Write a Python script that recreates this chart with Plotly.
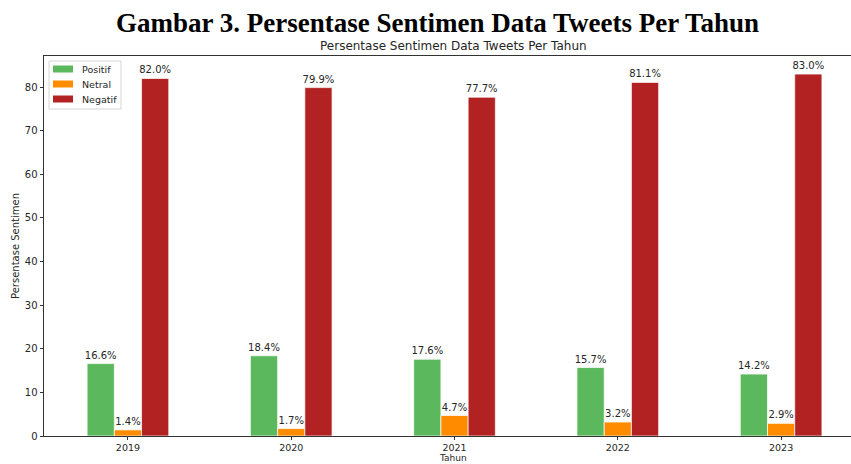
import plotly.graph_objects as go

years = ["2019", "2020", "2021", "2022", "2023"]
positif = [16.6, 18.4, 17.6, 15.7, 14.2]
netral = [1.4, 1.7, 4.7, 3.2, 2.9]
negatif = [82.0, 79.9, 77.7, 81.1, 83.0]
series_names = ["Positif", "Netral", "Negatif"]
series_colors = ["#5cb85c", "#ff8c00", "#b22222"]

FONT = "DejaVu Sans"
TXT = "#262626"

# plot area in pixels
L, R, T, B = 44, 851, 56, 436
PW, PH = R - L, B - T


def px(x):
    return (x - L) / PW


def py(y):
    return (B - y) / PH


fig = go.Figure()
for name, vals, col in zip(series_names, [positif, netral, negatif], series_colors):
    fig.add_trace(go.Bar(
        x=years, y=vals, name=name,
        marker=dict(color=col, line=dict(color="rgba(255,255,255,0.7)", width=1)),
        text=[f"{v:.1f}%" for v in vals],
        textposition="outside",
        textfont=dict(family=FONT, size=10, color=TXT),
        constraintext="none",
        cliponaxis=False,
        showlegend=False,
    ))

fig.update_layout(
    width=851, height=464,
    margin=dict(l=L, r=851 - R, t=T, b=464 - B, autoexpand=False),
    paper_bgcolor="white", plot_bgcolor="white",
    barmode="group", bargap=0.5, bargroupgap=0,
    font=dict(family=FONT, size=10, color=TXT),
    showlegend=False,
    uniformtext=dict(mode=False),
)

fig.update_xaxes(
    type="category", range=[-0.514, 4.428], automargin=False,
    showline=True, linecolor="#333333", linewidth=1, mirror=True,
    ticks="outside", ticklen=2.5, tickcolor="#333333",
    tickfont=dict(family=FONT, size=9.5, color=TXT),
    showgrid=False, zeroline=False,
)
fig.update_yaxes(
    range=[0, 87.15], tickvals=[0, 10, 20, 30, 40, 50, 60, 70, 80], automargin=False,
    showline=True, linecolor="#333333", linewidth=1, mirror=False,
    ticks="outside", ticklen=3.5, tickcolor="#333333",
    tickfont=dict(family=FONT, size=10, color=TXT),
    showgrid=False, zeroline=False,
)

# figure caption
fig.add_annotation(
    text="<b>Gambar 3. Persentase Sentimen Data Tweets Per Tahun</b>",
    xref="paper", yref="paper", x=px(437), y=py(23),
    xanchor="center", yanchor="middle", showarrow=False,
    font=dict(family="Liberation Serif", size=27, color="black"),
)
# chart title
fig.add_annotation(
    text="Persentase Sentimen Data Tweets Per Tahun",
    xref="paper", yref="paper", x=px(453), y=py(46),
    xanchor="center", yanchor="middle", showarrow=False,
    font=dict(family=FONT, size=12, color=TXT),
)
# axis titles
fig.add_annotation(
    text="Tahun", xref="paper", yref="paper", x=px(453), y=py(458),
    xanchor="center", yanchor="middle", showarrow=False, borderpad=0,
    font=dict(family=FONT, size=9, color=TXT),
)
fig.add_annotation(
    text="Persentase Sentimen", xref="paper", yref="paper", x=px(15), y=py(246),
    xanchor="center", yanchor="middle", showarrow=False, textangle=-90,
    font=dict(family=FONT, size=10, color=TXT),
)

# legend (matplotlib style)
fig.add_shape(type="rect", xref="paper", yref="paper",
              x0=px(49), x1=px(121), y0=py(61), y1=py(109),
              line=dict(color="#d5d5d5", width=1), fillcolor="rgba(255,255,255,0.8)")
for i, (name, col) in enumerate(zip(series_names, series_colors)):
    cy = 69 + i * 15
    fig.add_shape(type="rect", xref="paper", yref="paper",
                  x0=px(53), x1=px(73), y0=py(cy - 3.5), y1=py(cy + 3.5),
                  line=dict(width=0), fillcolor=col)
    fig.add_annotation(text=name, xref="paper", yref="paper", x=px(80), y=py(cy),
                       xanchor="left", yanchor="middle", showarrow=False,
                       font=dict(family=FONT, size=9.5, color=TXT))

fig.write_html(
    "out.html",
    config={"displayModeBar": False},
    post_script="document.body.style.margin='0';document.body.style.overflow='hidden';",
)
